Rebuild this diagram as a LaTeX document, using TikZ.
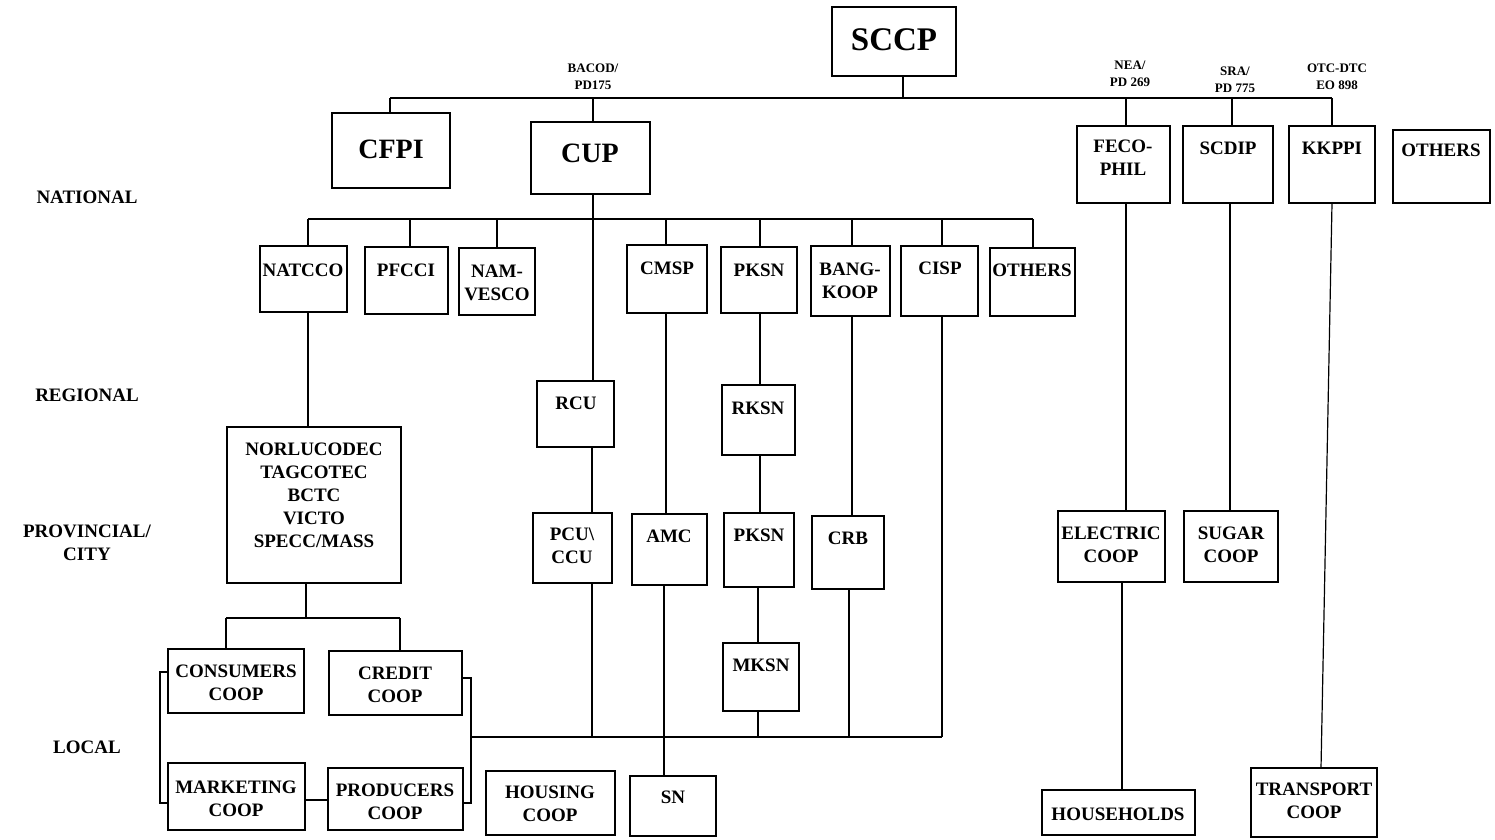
\documentclass[tikz,border=0pt]{standalone}
\usepackage{fontspec}
\setmainfont{Liberation Serif}
\usetikzlibrary{fit}
\newcommand{\bx}[5]{%
  \path (#2,#3) coordinate (#1-a) (#4,#5) coordinate (#1-b);
  \node[box, fit=(#1-a)(#1-b)] (#1) {};}
\tikzset{
  box/.style={draw, line width=1.4pt, inner sep=0pt, outer sep=0pt},
  ln/.style={line width=1.2pt},
  lbl/.style={font=\fontsize{19}{23}\selectfont\bfseries, align=center, inner sep=0pt},
  big/.style={font=\fontsize{28}{32}\selectfont\bfseries, inner sep=0pt},
  huge/.style={font=\fontsize{33}{36}\selectfont\bfseries, inner sep=0pt},
  small/.style={font=\fontsize{13}{17}\selectfont\bfseries, align=center, inner sep=0pt},
}
\begin{document}
\begin{tikzpicture}[x=1pt,y=-1pt]
\useasboundingbox (0,0) rectangle (1495,839);

% ---------- boxes ----------
\bx{sccp}{832}{7}{956}{76}
\bx{cfpi}{332}{113}{450}{188}
\bx{cup}{531}{122}{650}{194}
\bx{feco}{1077}{126}{1170}{203}
\bx{scdip}{1183}{126}{1273}{203}
\bx{kkppi}{1289}{126}{1375}{203}
\bx{othtop}{1393}{130}{1490}{203}

\bx{natcco}{260}{246}{347}{312}
\bx{pfcci}{365}{247}{448}{314}
\bx{nam}{459}{248}{535}{315}
\bx{cmsp}{627}{245}{707}{313}
\bx{pksn}{721}{247}{797}{313}
\bx{bang}{811}{246}{890}{316}
\bx{cisp}{901}{246}{978}{316}
\bx{othmid}{990}{248}{1075}{316}

\bx{rcu}{537}{381}{614}{447}
\bx{rksn}{722}{385}{795}{455}
\bx{norlu}{227}{427}{401}{583}

\bx{pcu}{533}{513}{612}{583}
\bx{amc}{632}{514}{707}{585}
\bx{pksnb}{724}{513}{794}{587}
\bx{crb}{812}{516}{884}{589}
\bx{elec}{1058}{511}{1165}{582}
\bx{sugar}{1184}{511}{1278}{582}

\bx{mksn}{723}{643}{799}{711}
\bx{cons}{168}{649}{304}{713}
\bx{cred}{329}{651}{462}{715}
\bx{mark}{168}{763}{305}{830}
\bx{prod}{328}{768}{463}{830}
\bx{hous}{486}{771}{615}{835}
\bx{sn}{630}{776}{716}{836}
\bx{hh}{1042}{790}{1195}{835}
\bx{trans}{1251}{768}{1377}{837}

% ---------- box texts ----------
\node[huge] (sccp-t) at (894,40) {SCCP};
\node[big] (cfpi-t) at (391,149) {CFPI};
\node[big] (cup-t) at (590,153) {CUP};
\node[lbl] (feco-t) at (1123,158) {FECO-\\PHIL};
\node[lbl] (scdip-t) at (1228,148) {SCDIP};
\node[lbl] (kkppi-t) at (1332,148) {KKPPI};
\node[lbl] (othtop-t) at (1441,150) {OTHERS};

\node[lbl] (natcco-t) at (303,270) {NATCCO};
\node[lbl] (pfcci-t) at (406,270) {PFCCI};
\node[lbl] (nam-t) at (497,283) {NAM-\\VESCO};
\node[lbl] (cmsp-t) at (667,268) {CMSP};
\node[lbl] (pksn-t) at (759,270) {PKSN};
\node[lbl] (bang-t) at (850,281) {BANG-\\KOOP};
\node[lbl] (cisp-t) at (940,268) {CISP};
\node[lbl] (othmid-t) at (1032,270) {OTHERS};

\node[lbl] (rcu-t) at (576,403) {RCU};
\node[lbl] (rksn-t) at (758,408) {RKSN};
\node[lbl] (norlu-t) at (314,495) {NORLUCODEC\\TAGCOTEC\\BCTC\\VICTO\\SPECC/MASS};

\node[lbl] (pcu-t) at (572,546) {PCU\textbackslash\\CCU};
\node[lbl] (amc-t) at (669,536) {AMC};
\node[lbl] (pksnb-t) at (759,535) {PKSN};
\node[lbl] (crb-t) at (848,538) {CRB};
\node[lbl] (elec-t) at (1111,545) {ELECTRIC\\COOP};
\node[lbl] (sugar-t) at (1231,545) {SUGAR\\COOP};

\node[lbl] (mksn-t) at (761,665) {MKSN};
\node[lbl] (cons-t) at (236,683) {CONSUMERS\\COOP};
\node[lbl] (cred-t) at (395,685) {CREDIT\\COOP};
\node[lbl] (mark-t) at (236,799) {MARKETING\\COOP};
\node[lbl] (prod-t) at (395,802) {PRODUCERS\\COOP};
\node[lbl] (hous-t) at (550,804) {HOUSING\\COOP};
\node[lbl] (sn-t) at (673,797) {SN};
\node[lbl] (hh-t) at (1118,814) {HOUSEHOLDS};
\node[lbl] (trans-t) at (1314,801) {TRANSPORT\\COOP};

% ---------- small labels ----------
\node[small] (l-bacod) at (593,77) {BACOD/\\PD175};
\node[small] (l-nea) at (1130,74) {NEA/\\PD 269};
\node[small] (l-sra) at (1235,80) {SRA/\\PD 775};
\node[small] (l-otc) at (1337,77) {OTC-DTC\\EO 898};

% ---------- level labels ----------
\node[lbl] (lv-nat) at (87,197) {NATIONAL};
\node[lbl] (lv-reg) at (87,395) {REGIONAL};
\node[lbl] (lv-prov) at (87,543) {PROVINCIAL/\\CITY};
\node[lbl] (lv-loc) at (87,747) {LOCAL};

% ---------- bar 1 ----------
\coordinate (b1L) at (390,98);
\coordinate (b1R) at (1332,98);
\coordinate (jS) at (903,98);
\coordinate (jCUP) at (593,98);
\coordinate (jFECO) at (1126,98);
\coordinate (jSCD) at (1232,98);
\draw[ln] (b1L) -- (b1R);
\draw[ln] (sccp.south -| jS) -- (jS);
\draw[ln] (b1L) -- (cfpi.north -| b1L);
\draw[ln] (jCUP) -- (cup.north -| jCUP);
\draw[ln] (jFECO) -- (feco.north -| jFECO);
\draw[ln] (jSCD) -- (scdip.north -| jSCD);
\draw[ln] (b1R) -- (kkppi.north -| b1R);

% ---------- bar 2 ----------
\coordinate (b2L) at (308,219);
\coordinate (b2R) at (1033,219);
\coordinate (j2pf) at (410,219);
\coordinate (j2nam) at (497,219);
\coordinate (j2cm) at (666,219);
\coordinate (j2pk) at (760,219);
\coordinate (j2bg) at (852,219);
\coordinate (j2ci) at (942,219);
\draw[ln] (b2L) -- (b2R);
\draw[ln] (b2L) -- (natcco.north -| b2L);
\draw[ln] (j2pf) -- (pfcci.north -| j2pf);
\draw[ln] (j2nam) -- (nam.north -| j2nam);
\draw[ln] (j2cm) -- (cmsp.north -| j2cm);
\draw[ln] (j2pk) -- (pksn.north -| j2pk);
\draw[ln] (j2bg) -- (bang.north -| j2bg);
\draw[ln] (j2ci) -- (cisp.north -| j2ci);
\draw[ln] (b2R) -- (othmid.north -| b2R);

% ---------- CUP trunk ----------
\coordinate (b3cup) at (592,737);
\draw[ln] (cup.south -| jCUP) -- (rcu.north -| jCUP);
\draw[ln] (rcu.south -| b3cup) -- (pcu.north -| b3cup);
\draw[ln] (pcu.south -| b3cup) -- (b3cup);

% ---------- bar 3 ----------
\coordinate (b3L) at (471,737);
\coordinate (b3R) at (942,737);
\coordinate (b3amc) at (664,737);
\coordinate (b3mk) at (758,737);
\coordinate (b3crb) at (849,737);
\draw[ln] (b3L) -- (b3R);
\draw[ln] (cmsp.south -| j2cm) -- (amc.north -| j2cm);
\draw[ln] (amc.south -| b3amc) -- (sn.north -| b3amc);
\draw[ln] (pksn.south -| j2pk) -- (rksn.north -| j2pk);
\draw[ln] (rksn.south -| j2pk) -- (pksnb.north -| j2pk);
\draw[ln] (pksnb.south -| b3mk) -- (mksn.north -| b3mk);
\draw[ln] (mksn.south -| b3mk) -- (b3mk);
\draw[ln] (bang.south -| j2bg) -- (crb.north -| j2bg);
\draw[ln] (crb.south -| b3crb) -- (b3crb);
\draw[ln] (cisp.south -| b3R) -- (b3R);

% ---------- NATCCO branch ----------
\coordinate (j4) at (306,618);
\coordinate (b4L) at (226,618);
\coordinate (b4R) at (400,618);
\draw[ln] (natcco.south -| b2L) -- (norlu.north -| b2L);
\draw[ln] (norlu.south -| j4) -- (j4);
\draw[ln] (b4L) -- (b4R);
\draw[ln] (b4L) -- (cons.north -| b4L);
\draw[ln] (b4R) -- (cred.north -| b4R);

% ---------- local brackets ----------
\coordinate (brL1) at (160,672);
\coordinate (brL2) at (160,803);
\coordinate (brR1) at (471,678);
\coordinate (brR2) at (471,803);
\coordinate (mp) at (316,800);
\draw[ln] (cons.west |- brL1) -- (brL1) -- (brL2) -- (mark.west |- brL2);
\draw[ln] (cred.east |- brR1) -- (brR1) -- (brR2) -- (prod.east |- brR2);
\draw[ln] (mark.east |- mp) -- (prod.west |- mp);

% ---------- right columns ----------
\coordinate (cEl) at (1122,0);
\coordinate (cSu) at (1230,0);
\coordinate (cTr) at (1321,0);
\draw[ln] (feco.south -| jFECO) -- (elec.north -| jFECO);
\draw[ln] (elec.south -| cEl) -- (hh.north -| cEl);
\draw[ln] (scdip.south -| cSu) -- (sugar.north -| cSu);
\draw[ln] (kkppi.south -| b1R) -- (trans.north -| cTr);
\end{tikzpicture}
\end{document}
